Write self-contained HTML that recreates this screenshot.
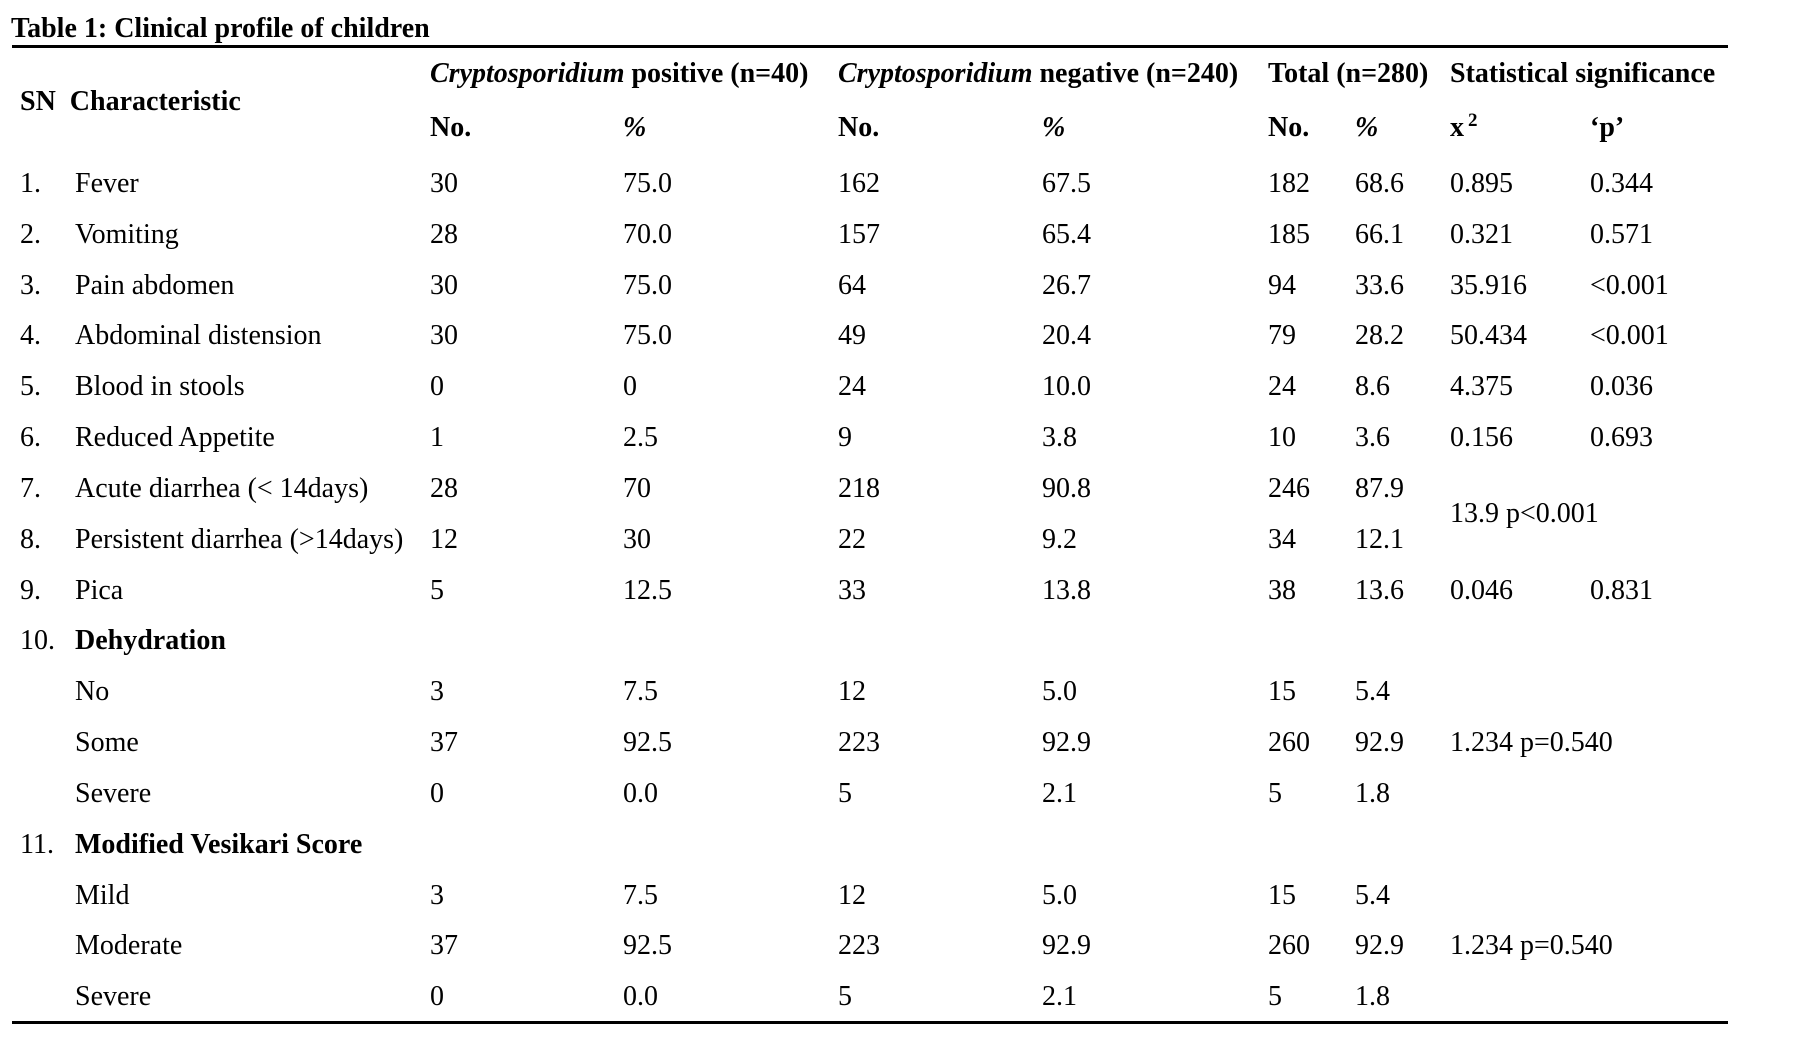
<!DOCTYPE html>
<html><head><meta charset="utf-8"><style>
body{margin:0;width:1794px;height:1054px;background:#fff;position:relative;overflow:hidden;font-family:"Liberation Serif",serif;font-size:28px;color:#000}
div.t{position:absolute;white-space:nowrap;line-height:32px;height:32px}
.b{font-weight:bold}
.rule{position:absolute;left:12px;width:1716px;height:3px;background:#000}
</style></head><body>
<div class="t b" style="left:11px;top:13px">Table 1: Clinical profile of children</div>
<div class="rule" style="top:45px"></div>
<div class="rule" style="top:1021px"></div>
<div class="t b" style="left:20px;top:86px">SN&nbsp; Characteristic</div>
<div class="t b" style="left:430px;top:58px"><i>Cryptosporidium</i> positive (n=40)</div>
<div class="t b" style="left:838px;top:58px"><i>Cryptosporidium</i> negative (n=240)</div>
<div class="t b" style="left:1268px;top:58px">Total (n=280)</div>
<div class="t b" style="left:1450px;top:58px">Statistical significance</div>
<div class="t b" style="left:430px;top:112px">No.</div>
<div class="t b" style="left:623px;top:112px"><i>%</i></div>
<div class="t b" style="left:838px;top:112px">No.</div>
<div class="t b" style="left:1042px;top:112px"><i>%</i></div>
<div class="t b" style="left:1268px;top:112px">No.</div>
<div class="t b" style="left:1355px;top:112px"><i>%</i></div>
<div class="t b" style="left:1450px;top:112px">x<span style="font-size:19px;position:relative;top:-10px;margin-left:4px">2</span></div>
<div class="t b" style="left:1590px;top:112px">‘p’</div>

<div class="t" style="left:20px;top:168px">1.</div><div class="t" style="left:75px;top:168px">Fever</div><div class="t" style="left:430px;top:168px">30</div><div class="t" style="left:623px;top:168px">75.0</div><div class="t" style="left:838px;top:168px">162</div><div class="t" style="left:1042px;top:168px">67.5</div><div class="t" style="left:1268px;top:168px">182</div><div class="t" style="left:1355px;top:168px">68.6</div><div class="t" style="left:1450px;top:168px">0.895</div><div class="t" style="left:1590px;top:168px">0.344</div>

<div class="t" style="left:20px;top:219px">2.</div><div class="t" style="left:75px;top:219px">Vomiting</div><div class="t" style="left:430px;top:219px">28</div><div class="t" style="left:623px;top:219px">70.0</div><div class="t" style="left:838px;top:219px">157</div><div class="t" style="left:1042px;top:219px">65.4</div><div class="t" style="left:1268px;top:219px">185</div><div class="t" style="left:1355px;top:219px">66.1</div><div class="t" style="left:1450px;top:219px">0.321</div><div class="t" style="left:1590px;top:219px">0.571</div>

<div class="t" style="left:20px;top:270px">3.</div><div class="t" style="left:75px;top:270px">Pain abdomen</div><div class="t" style="left:430px;top:270px">30</div><div class="t" style="left:623px;top:270px">75.0</div><div class="t" style="left:838px;top:270px">64</div><div class="t" style="left:1042px;top:270px">26.7</div><div class="t" style="left:1268px;top:270px">94</div><div class="t" style="left:1355px;top:270px">33.6</div><div class="t" style="left:1450px;top:270px">35.916</div><div class="t" style="left:1590px;top:270px">&lt;0.001</div>

<div class="t" style="left:20px;top:320px">4.</div><div class="t" style="left:75px;top:320px">Abdominal distension</div><div class="t" style="left:430px;top:320px">30</div><div class="t" style="left:623px;top:320px">75.0</div><div class="t" style="left:838px;top:320px">49</div><div class="t" style="left:1042px;top:320px">20.4</div><div class="t" style="left:1268px;top:320px">79</div><div class="t" style="left:1355px;top:320px">28.2</div><div class="t" style="left:1450px;top:320px">50.434</div><div class="t" style="left:1590px;top:320px">&lt;0.001</div>

<div class="t" style="left:20px;top:371px">5.</div><div class="t" style="left:75px;top:371px">Blood in stools</div><div class="t" style="left:430px;top:371px">0</div><div class="t" style="left:623px;top:371px">0</div><div class="t" style="left:838px;top:371px">24</div><div class="t" style="left:1042px;top:371px">10.0</div><div class="t" style="left:1268px;top:371px">24</div><div class="t" style="left:1355px;top:371px">8.6</div><div class="t" style="left:1450px;top:371px">4.375</div><div class="t" style="left:1590px;top:371px">0.036</div>

<div class="t" style="left:20px;top:422px">6.</div><div class="t" style="left:75px;top:422px">Reduced Appetite</div><div class="t" style="left:430px;top:422px">1</div><div class="t" style="left:623px;top:422px">2.5</div><div class="t" style="left:838px;top:422px">9</div><div class="t" style="left:1042px;top:422px">3.8</div><div class="t" style="left:1268px;top:422px">10</div><div class="t" style="left:1355px;top:422px">3.6</div><div class="t" style="left:1450px;top:422px">0.156</div><div class="t" style="left:1590px;top:422px">0.693</div>

<div class="t" style="left:20px;top:473px">7.</div><div class="t" style="left:75px;top:473px">Acute diarrhea (&lt; 14days)</div><div class="t" style="left:430px;top:473px">28</div><div class="t" style="left:623px;top:473px">70</div><div class="t" style="left:838px;top:473px">218</div><div class="t" style="left:1042px;top:473px">90.8</div><div class="t" style="left:1268px;top:473px">246</div><div class="t" style="left:1355px;top:473px">87.9</div>
<div class="t" style="left:1450px;top:498px">13.9 p&lt;0.001</div>

<div class="t" style="left:20px;top:524px">8.</div><div class="t" style="left:75px;top:524px">Persistent diarrhea (&gt;14days)</div><div class="t" style="left:430px;top:524px">12</div><div class="t" style="left:623px;top:524px">30</div><div class="t" style="left:838px;top:524px">22</div><div class="t" style="left:1042px;top:524px">9.2</div><div class="t" style="left:1268px;top:524px">34</div><div class="t" style="left:1355px;top:524px">12.1</div>

<div class="t" style="left:20px;top:575px">9.</div><div class="t" style="left:75px;top:575px">Pica</div><div class="t" style="left:430px;top:575px">5</div><div class="t" style="left:623px;top:575px">12.5</div><div class="t" style="left:838px;top:575px">33</div><div class="t" style="left:1042px;top:575px">13.8</div><div class="t" style="left:1268px;top:575px">38</div><div class="t" style="left:1355px;top:575px">13.6</div><div class="t" style="left:1450px;top:575px">0.046</div><div class="t" style="left:1590px;top:575px">0.831</div>

<div class="t" style="left:20px;top:625px">10.</div><div class="t b" style="left:75px;top:625px">Dehydration</div>

<div class="t" style="left:75px;top:676px">No</div><div class="t" style="left:430px;top:676px">3</div><div class="t" style="left:623px;top:676px">7.5</div><div class="t" style="left:838px;top:676px">12</div><div class="t" style="left:1042px;top:676px">5.0</div><div class="t" style="left:1268px;top:676px">15</div><div class="t" style="left:1355px;top:676px">5.4</div>

<div class="t" style="left:75px;top:727px">Some</div><div class="t" style="left:430px;top:727px">37</div><div class="t" style="left:623px;top:727px">92.5</div><div class="t" style="left:838px;top:727px">223</div><div class="t" style="left:1042px;top:727px">92.9</div><div class="t" style="left:1268px;top:727px">260</div><div class="t" style="left:1355px;top:727px">92.9</div><div class="t" style="left:1450px;top:727px">1.234 p=0.540</div>

<div class="t" style="left:75px;top:778px">Severe</div><div class="t" style="left:430px;top:778px">0</div><div class="t" style="left:623px;top:778px">0.0</div><div class="t" style="left:838px;top:778px">5</div><div class="t" style="left:1042px;top:778px">2.1</div><div class="t" style="left:1268px;top:778px">5</div><div class="t" style="left:1355px;top:778px">1.8</div>

<div class="t" style="left:20px;top:829px">11.</div><div class="t b" style="left:75px;top:829px">Modified Vesikari Score</div>

<div class="t" style="left:75px;top:880px">Mild</div><div class="t" style="left:430px;top:880px">3</div><div class="t" style="left:623px;top:880px">7.5</div><div class="t" style="left:838px;top:880px">12</div><div class="t" style="left:1042px;top:880px">5.0</div><div class="t" style="left:1268px;top:880px">15</div><div class="t" style="left:1355px;top:880px">5.4</div>

<div class="t" style="left:75px;top:930px">Moderate</div><div class="t" style="left:430px;top:930px">37</div><div class="t" style="left:623px;top:930px">92.5</div><div class="t" style="left:838px;top:930px">223</div><div class="t" style="left:1042px;top:930px">92.9</div><div class="t" style="left:1268px;top:930px">260</div><div class="t" style="left:1355px;top:930px">92.9</div><div class="t" style="left:1450px;top:930px">1.234 p=0.540</div>

<div class="t" style="left:75px;top:981px">Severe</div><div class="t" style="left:430px;top:981px">0</div><div class="t" style="left:623px;top:981px">0.0</div><div class="t" style="left:838px;top:981px">5</div><div class="t" style="left:1042px;top:981px">2.1</div><div class="t" style="left:1268px;top:981px">5</div><div class="t" style="left:1355px;top:981px">1.8</div>
</body></html>
